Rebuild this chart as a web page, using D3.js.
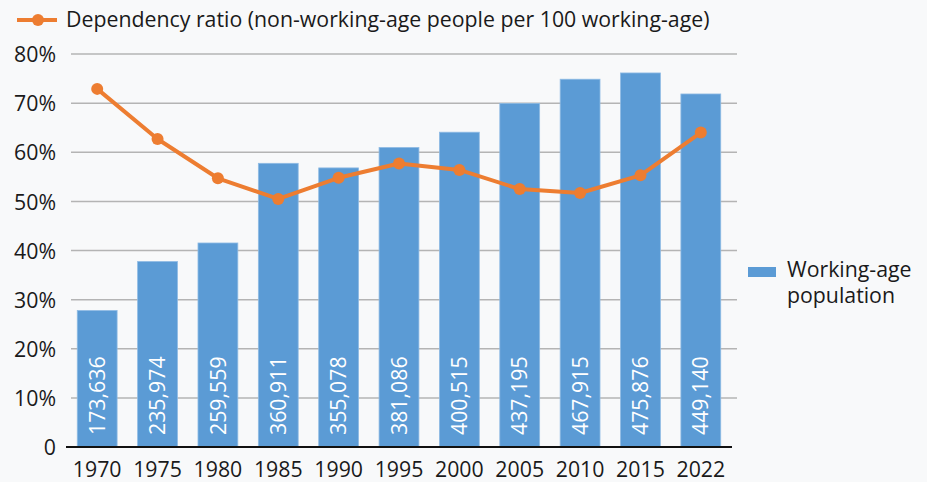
<!DOCTYPE html>
<html>
<head>
<meta charset="utf-8">
<script src="https://cdn.jsdelivr.net/npm/d3@7"></script>
<style>
html,body{margin:0;padding:0;background:#f8f9fa;}
svg{display:block;font-family:"Open Sans","Noto Sans",sans-serif;}
</style>
</head>
<body>
<svg id="chart" width="927" height="482"></svg>
<script>
const years = ["1970","1975","1980","1985","1990","1995","2000","2005","2010","2015","2022"];
const workingAge = [173636,235974,259559,360911,355078,381086,400515,437195,467915,475876,449140];
const dependencyRatio = [72.9,62.7,54.7,50.5,54.8,57.7,56.4,52.5,51.7,55.3,64.0];
const yTicks = [0,10,20,30,40,50,60,70,80];
const lineLabel = "Dependency ratio (non-working-age people per 100 working-age)";
const barLabel = ["Working-age","population"];

const svg = d3.select("#chart");
const W = 927, H = 482;
const plot = {left:67, right:731, top:54, bottom:447};
const FS = 21.3;

svg.append("rect").attr("width",W).attr("height",H).attr("fill","#f8f9fa");

const x = d3.scaleBand().domain(years).range([plot.left, plot.right]).paddingInner(0.34).paddingOuter(0.17);
const y = d3.scaleLinear().domain([0,80]).range([plot.bottom, plot.top]);
// population axis shares the same pixel range: 500,000 people == 80%
const yPop = d3.scaleLinear().domain([0,500000]).range([plot.bottom, plot.top]);

// y axis labels
const yAxis = d3.axisLeft(y).tickValues(yTicks).tickSize(0).tickPadding(0)
  .tickFormat(d => d === 0 ? "0" : d + "%");
const gy = svg.append("g").attr("transform","translate(56,0)").call(yAxis);
gy.select(".domain").remove();
gy.selectAll("text").attr("font-size",FS).attr("fill","#1a1a1a")
  .attr("font-family","'Open Sans','Noto Sans',sans-serif").attr("dy","0.36em");

// gridlines
svg.append("g").selectAll("line").data(yTicks.filter(d=>d>0)).join("line")
  .attr("x1",71).attr("x2",737)
  .attr("y1",d=>y(d)).attr("y2",d=>y(d))
  .attr("stroke","#b4b4b4").attr("stroke-width",1.5);

// bars
svg.append("g").selectAll("rect").data(workingAge).join("rect")
  .attr("x",(d,i)=>x(years[i]))
  .attr("width",x.bandwidth())
  .attr("y",d=>yPop(d))
  .attr("height",d=>plot.bottom - yPop(d))
  .attr("fill","#5b9bd5")
  .attr("stroke","#8fbbe4").attr("stroke-width",0.8);

// bar value labels
svg.append("g").selectAll("text").data(workingAge).join("text")
  .attr("transform",(d,i)=>`translate(${x(years[i])+x.bandwidth()/2},435) rotate(-90)`)
  .attr("dy","0.36em")
  .attr("text-anchor","start")
  .attr("font-size",FS)
  .attr("fill","#ffffff")
  .text(d=>d3.format(",")(d));

// baseline
svg.append("line").attr("x1",66).attr("x2",732).attr("y1",plot.bottom).attr("y2",plot.bottom)
  .attr("stroke","#111").attr("stroke-width",2);

// x axis labels
const xAxis = d3.axisBottom(x).tickSize(0).tickPadding(0);
const gx = svg.append("g").attr("transform","translate(0,470)").call(xAxis);
gx.select(".domain").remove();
gx.selectAll("text").attr("font-size",FS).attr("fill","#1a1a1a")
  .attr("font-family","'Open Sans','Noto Sans',sans-serif").attr("dy","0.32em");

// dependency line
const cx = (i)=>x(years[i])+x.bandwidth()/2;
const line = d3.line().x((d,i)=>cx(i)).y(d=>y(d));
svg.append("path").datum(dependencyRatio).attr("d",line)
  .attr("fill","none").attr("stroke","#ed7d31").attr("stroke-width",4).attr("stroke-linejoin","round");
svg.append("g").selectAll("circle").data(dependencyRatio).join("circle")
  .attr("cx",(d,i)=>cx(i)).attr("cy",d=>y(d)).attr("r",6).attr("fill","#ed7d31");

// top legend
const lg = svg.append("g");
lg.append("line").attr("x1",17).attr("x2",57).attr("y1",20).attr("y2",20)
  .attr("stroke","#ed7d31").attr("stroke-width",4);
lg.append("circle").attr("cx",38).attr("cy",20).attr("r",6).attr("fill","#ed7d31");
lg.append("text").attr("x",66).attr("y",27).attr("font-size",FS).attr("fill","#1a1a1a").text(lineLabel);

// right legend
const rg = svg.append("g");
rg.append("rect").attr("x",748).attr("y",267).attr("width",28).attr("height",10).attr("fill","#5b9bd5");
rg.append("text").attr("x",787).attr("y",277).attr("font-size",FS).attr("fill","#1a1a1a").text(barLabel[0]);
rg.append("text").attr("x",787).attr("y",303).attr("font-size",FS).attr("fill","#1a1a1a").text(barLabel[1]);
</script>
</body>
</html>
